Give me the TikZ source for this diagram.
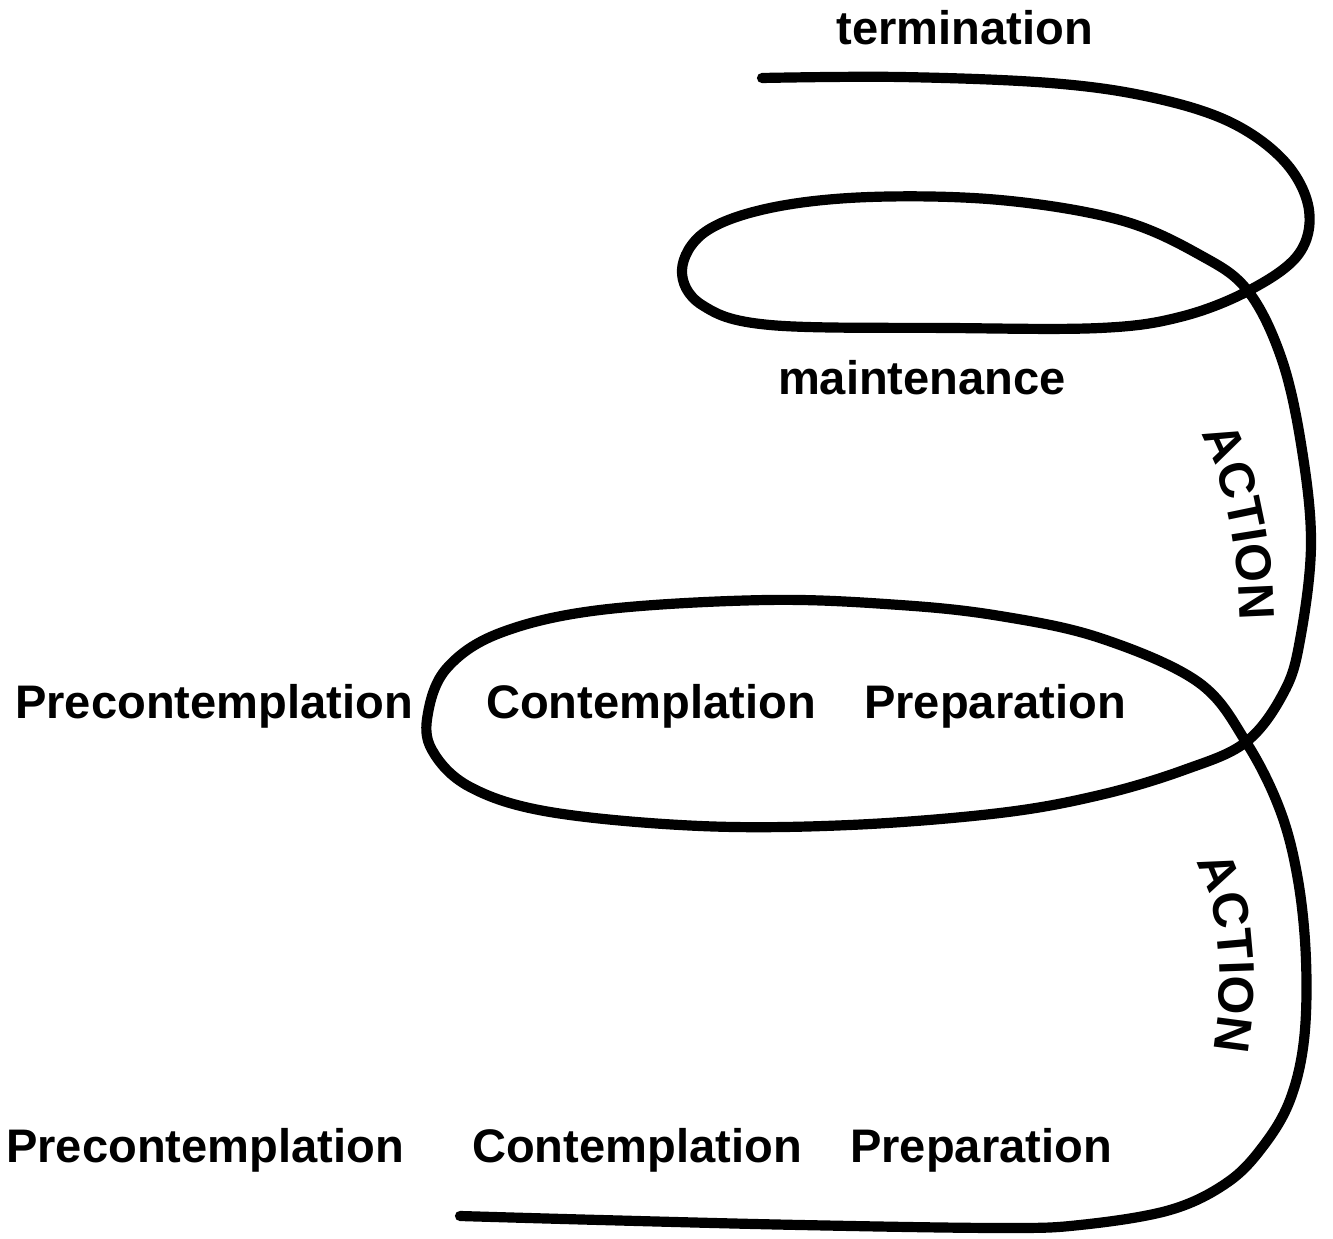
\documentclass[tikz,border=0pt]{standalone}
\usepackage{fontspec}
\setmainfont{Liberation Sans}
\usetikzlibrary{decorations.text}
\newcommand\lblfont{\fontsize{26.8pt}{30pt}\selectfont\bfseries}
\newcommand\actfont{\fontsize{28.5pt}{32pt}\selectfont\bfseries}
\tikzset{
  spiral/.style={line width=5.8pt, line cap=round, line join=round},
  lbl/.style={font=\lblfont, anchor=base, inner sep=0pt},
}
\begin{document}
\begin{tikzpicture}[x=0.02cm, y=-0.02cm]
\useasboundingbox (0,0) rectangle (1333,1239);
% the spiral
\draw[spiral] plot[smooth, tension=0.6] coordinates {
 (762,78) (900,77) (1050,83) (1150,97) (1230,122) (1285,162) (1309,210) (1298,255) (1248,291)
 (1180,317) (1100,328) (950,328) (770,325) (702,305) (682,270) (705,232) (770,208) (870,197)
 (1000,200) (1120,220) (1200,255) (1248,291) (1282,360) (1302,450) (1311,545) (1300,640)
 (1284,692) (1246,742) (1184,770) (1100,795) (1000,813) (850,825) (700,826) (550,812)
 (470,787) (432,750) (428,713) (447,668) (500,633) (600,610) (767,600) (900,605) (1000,616)
 (1100,638) (1198,682) (1246,742) (1280,810) (1298,880) (1306,960) (1304,1040) (1290,1100)
 (1264,1145) (1228,1182) (1170,1210) (1080,1225) (1000,1228) (800,1225) (600,1220) (460,1216)};
% labels
\node[lbl] (term) at (965,45) {termination};
\node[lbl] (maint) at (922,395) {maintenance};
\node[lbl] (pre1) at (214,719) {Precontemplation};
\node[lbl] (con1) at (651,719) {Contemplation};
\node[lbl] (prep1) at (995,719) {Preparation};
\node[lbl] (pre2) at (205,1162) {Precontemplation};
\node[lbl] (con2) at (637,1162) {Contemplation};
\node[lbl] (prep2) at (981,1162) {Preparation};
% curved ACTION labels
\path[decorate, decoration={text along path, text align=center,
   text={|\actfont|ACTION}}]
  (1196,428) .. controls (1222,465) and (1240,545) .. (1240,628);
\path[decorate, decoration={text along path, text align=center,
   text={|\actfont|ACTION}}]
  (1196,864) .. controls (1218,895) and (1226,985) .. (1214,1048);
\end{tikzpicture}
\end{document}
